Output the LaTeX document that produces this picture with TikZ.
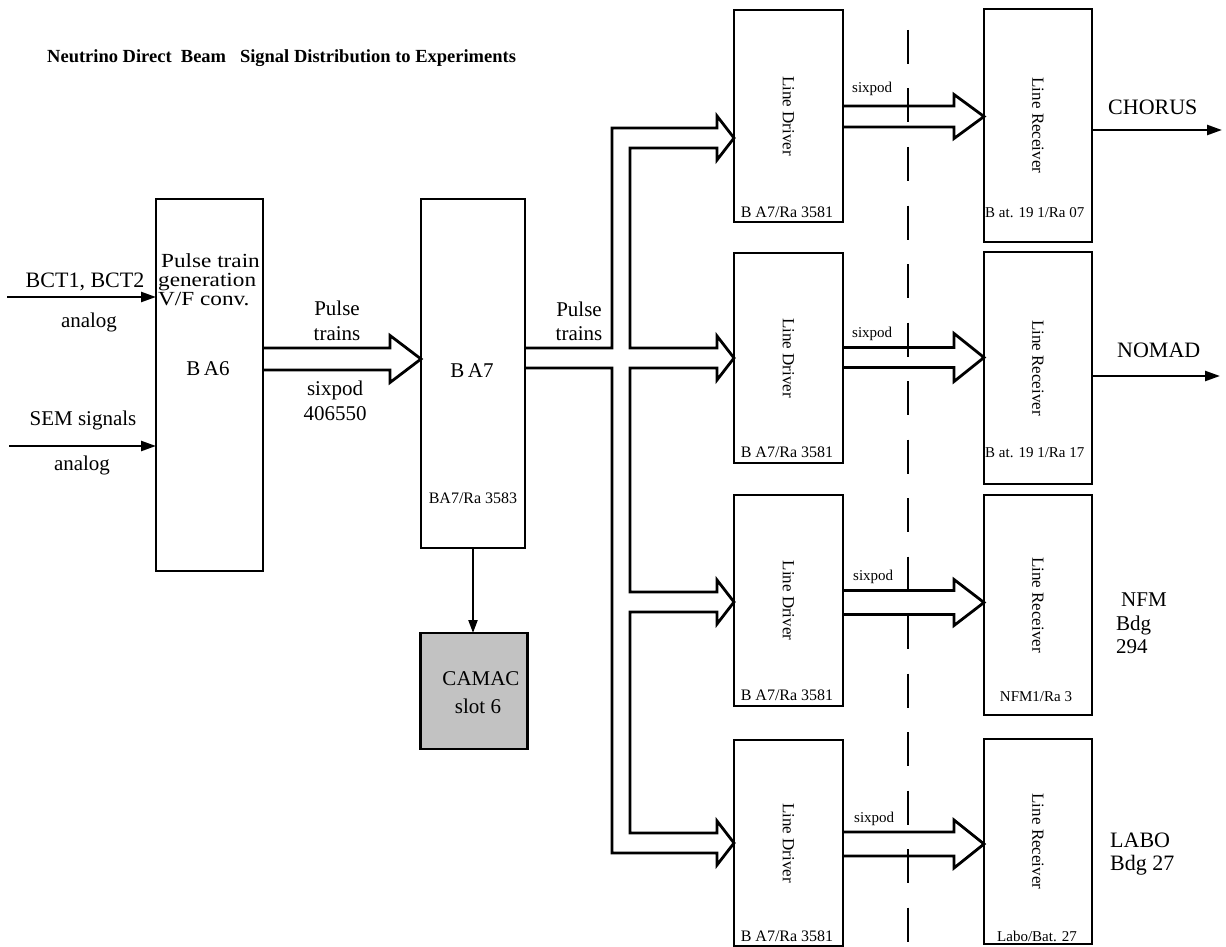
\documentclass[tikz,border=0pt]{standalone}
\usepackage{fontspec}
\setmainfont{Liberation Serif}
\usetikzlibrary{arrows.meta,calc}

\newcommand{\fsz}[1]{\fontsize{#1}{#1}\selectfont}
\newcommand{\wide}[1]{\scalebox{1.16}[1]{#1}}
% hollow block arrow: start, tip, half shaft width, half head width, head length
\newcommand{\fatarr}[5]{%
  \draw[pipe] ($(#1)+(0,-#3)$) -- ($(#2)+(-#5,-#3)$) -- ($(#2)+(-#5,-#4)$) -- (#2)
    -- ($(#2)+(-#5,#4)$) -- ($(#2)+(-#5,#3)$) -- ($(#1)+(0,#3)$);}

\begin{document}
\begin{tikzpicture}[x=1pt,y=-1pt,
  box/.style={draw, line width=2.7pt, inner sep=0pt, outer sep=0pt},
  pipe/.style={line width=2.8pt, line join=miter},
  sig/.style={line width=2.4pt, -{Triangle[length=15pt,width=10pt]}},
  txt/.style={inner sep=0pt, font=\fsz{21}},
  sm/.style={inner sep=0pt, font=\fsz{15}},
  vtxt/.style={inner sep=0pt, font=\fsz{17}, rotate=-90},
  cut/.style={line width=2.8pt, dash pattern=on 34pt off 24.5pt}]
\useasboundingbox (0,0) rectangle (1226,947);

% title
\node[inner sep=0pt, anchor=base west, font=\fsz{18.5}\bfseries] (title) at (47,63)
  {Neutrino Direct\ \ Beam\ \ \ Signal Distribution to Experiments};

% main boxes
\node[box, minimum width=107pt, minimum height=372pt] (ba6) at (209.5,385) {};
\node[box, minimum width=104pt, minimum height=349pt] (ba7) at (473,373.5) {};
\node[box, fill=black!24, minimum width=107pt, minimum height=116pt] (camac) at (474,691) {};

% line drivers
\foreach \n/\yc/\h in {1/116/212, 2/358/210, 3/600.5/211, 4/843/206}
  \node[box, minimum width=109pt, minimum height=\h pt] (ld\n) at (788.5,\yc) {};
% line receivers
\foreach \n/\yc/\h in {1/125.5/233, 2/368/232, 3/605/220, 4/841.5/205}
  \node[box, minimum width=108pt, minimum height=\h pt] (lr\n) at (1038,\yc) {};

% analog inputs
\coordinate (bctin) at (7,297);
\coordinate (semin) at (9,446);
\draw[sig] (bctin) -- (ba6.west |- bctin);
\draw[sig] (semin) -- (ba6.west |- semin);

% BA6 -> BA7 pulse trains
\coordinate (a6o) at (ba6.east |- 0,359);
\coordinate (a7i) at (ba7.west |- 0,359);
\fatarr{a6o}{a7i}{11}{23.5}{31}

% BA7 -> CAMAC
\draw[line width=2.2pt, -{Triangle[length=13pt,width=9pt]}] (ba7.south) -- (ba7.south |- camac.north);

% distribution bus from BA7 to the four line drivers
\coordinate (t1) at (ld1.west |- 0,138);
\coordinate (t2) at (ld2.west |- 0,358);
\coordinate (t3) at (ld3.west |- 0,602);
\coordinate (t4) at (ld4.west |- 0,843);
\draw[pipe] (ba7.east |- 0,348) -- (612,348) -- (612,128) -- (717,128) -- (717,116) -- (t1)
  -- (717,160) -- (717,148) -- (630,148) -- (630,348) -- (717,348) -- (717,336) -- (t2)
  -- (717,380) -- (717,368) -- (630,368) -- (630,592) -- (717,592) -- (717,580) -- (t3)
  -- (717,624) -- (717,612) -- (630,612) -- (630,833) -- (717,833) -- (717,821) -- (t4)
  -- (717,865) -- (717,853) -- (612,853) -- (612,368) -- (ba7.east |- 0,368);

% line driver -> line receiver links
\coordinate (d1) at (ld1.east |- 0,116.5); \coordinate (r1) at (lr1.west |- 0,116.5);
\coordinate (d2) at (ld2.east |- 0,357.5); \coordinate (r2) at (lr2.west |- 0,357.5);
\coordinate (d3) at (ld3.east |- 0,602.5); \coordinate (r3) at (lr3.west |- 0,602.5);
\coordinate (d4) at (ld4.east |- 0,844);   \coordinate (r4) at (lr4.west |- 0,844);
\fatarr{d1}{r1}{10.5}{22}{30}
\fatarr{d2}{r2}{10}{24}{30}
\fatarr{d3}{r3}{12}{23}{30}
\fatarr{d4}{r4}{12}{24}{30}

% outputs to experiments
\coordinate (chorus) at (1222,130);
\coordinate (nomad) at (1220,376);
\draw[sig] (lr1.east |- chorus) -- (chorus);
\draw[sig] (lr2.east |- nomad) -- (nomad);

% building boundary
\coordinate (cuttop) at (908,30);
\coordinate (cutbot) at (908,947);
\draw[cut] (cuttop) -- (cutbot);

% labels, left part
\node[txt, anchor=base, font=\fsz{22}] (lbct) at (85,287) {BCT1, BCT2};
\node[txt, anchor=base] (lan1) at (89,327) {analog};
\node[txt, anchor=base] (lsem) at (83,425) {SEM signals};
\node[txt, anchor=base] (lan2) at (82,470) {analog};
\node[txt, anchor=base west, font=\fsz{20}] (g1) at (161,267) {\wide{Pulse train}};
\node[txt, anchor=base west, font=\fsz{20}] (g2) at (158,286) {\wide{generation}};
\node[txt, anchor=base west, font=\fsz{20}] (g3) at (158,305) {\wide{V/F conv.}};
\node[txt, anchor=base] (lba6) at (208,375) {B\,A6};
\node[txt, anchor=base] (p1a) at (337,315) {Pulse};
\node[txt, anchor=base] (p1b) at (337,340) {trains};
\node[txt, anchor=base] (s1a) at (335,395) {sixpod};
\node[txt, anchor=base] (s1b) at (335,420) {406550};
\node[txt, anchor=base] (lba7) at (472,377) {B\,A7};
\node[sm, anchor=base, font=\fsz{16}] (lba7r) at (473,503) {BA7/Ra 3583};
\node[txt, anchor=base] (p2a) at (579,316) {Pulse};
\node[txt, anchor=base] (p2b) at (579,340) {trains};
\node[txt, anchor=base] (lcam1) at (481,685) {CAMAC};
\node[txt, anchor=base] (lcam2) at (478,713) {slot 6};

% labels, drivers and receivers
\foreach \n in {1,...,4} {
  \node[vtxt] at (ld\n.center) {Line Driver};
  \node[vtxt] at (lr\n.center) {Line Receiver};
}
\node[sm, anchor=base, font=\fsz{16}] at (787,217) {B A7/Ra 3581};
\node[sm, anchor=base, font=\fsz{16}] at (787,457) {B A7/Ra 3581};
\node[sm, anchor=base, font=\fsz{16}] at (787,700) {B A7/Ra 3581};
\node[sm, anchor=base, font=\fsz{16}] at (787,941) {B A7/Ra 3581};
\node[sm, anchor=base west] at (985,217) {B at. 19 1/Ra 07};
\node[sm, anchor=base west] at (985,457) {B at. 19 1/Ra 17};
\node[sm, anchor=base] at (1036,701) {NFM1/Ra 3};
\node[sm, anchor=base] at (1037,941) {Labo/Bat. 27};
\node[sm, anchor=base west] at (852,93) {sixpod};
\node[sm, anchor=base west] at (852,337) {sixpod};
\node[sm, anchor=base west] at (853,580) {sixpod};
\node[sm, anchor=base west] at (854,822) {sixpod};

% experiment names
\node[txt, anchor=base west, font=\fsz{22}] (lch) at (1108,115) {CHORUS};
\node[txt, anchor=base west, font=\fsz{22}] (lno) at (1117,357) {NOMAD};
\node[txt, anchor=base west] (lnfm1) at (1121,606) {NFM};
\node[txt, anchor=base west] (lnfm2) at (1116,630) {Bdg};
\node[txt, anchor=base west] (lnfm3) at (1116,653) {294};
\node[txt, anchor=base west, font=\fsz{22}] (llab1) at (1110,847) {LABO};
\node[txt, anchor=base west, font=\fsz{22}] (llab2) at (1110,870) {Bdg 27};
\end{tikzpicture}
\end{document}
